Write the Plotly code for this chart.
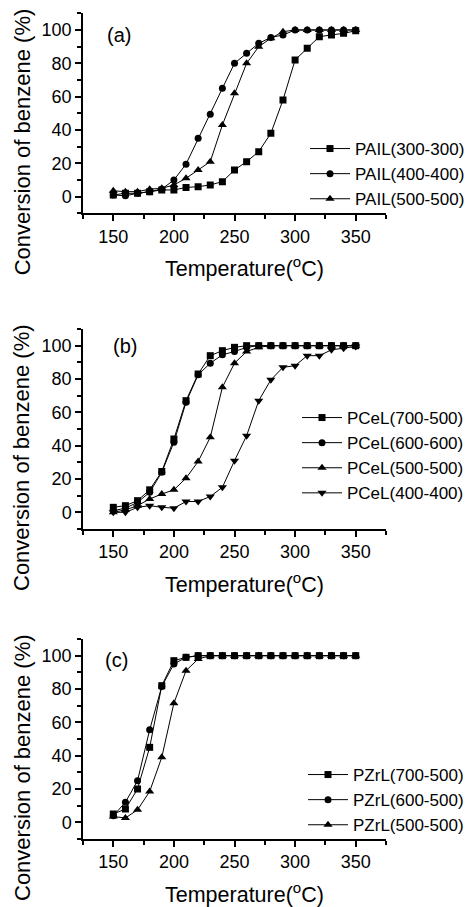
import plotly.graph_objects as go

temps = [150, 160, 170, 180, 190, 200, 210, 220, 230, 240, 250,
         260, 270, 280, 290, 300, 310, 320, 330, 340, 350]

# (a) PAIL series
pail_300 = [1, 2, 2, 3, 4, 4, 5.5, 6, 7, 9, 16, 21, 27, 38, 58, 82, 89, 96, 97, 98, 99.5]
pail_400 = [1, 0.5, 2, 3, 4.5, 10, 19.5, 35, 49.5, 65, 80, 86, 92, 95.5, 97, 100, 100, 100, 100, 100, 100]
pail_500 = [3.5, 3, 3, 4.5, 5, 7, 11, 16, 21, 43, 62, 80, 90, 95, 99, 100, 100, 100, 100, 100, 100]

# (b) PCeL series
pcel_700 = [3, 4, 7, 13.5, 24.5, 44, 67, 83, 94, 97, 99, 100, 100, 100, 100, 100, 100, 100, 100, 100, 100]
pcel_600 = [1, 2.5, 6, 12, 24, 42, 66, 82.5, 89.5, 94.5, 96.5, 99, 100, 100, 100, 100, 100, 100, 100, 100, 100]
pcel_500 = [0, 1.5, 4, 8, 11, 13.5, 20.5, 30.5, 45, 75, 89.5, 96.5, 99, 100, 100, 100, 100, 100, 100, 100, 100]
pcel_400 = [0, 0, 3, 4, 3, 2.5, 6.5, 6.5, 9.5, 15, 31, 46, 67, 79.5, 87, 88, 94, 94, 97.5, 98.5, 99.5]

# (c) PZrL series
pzrl_700 = [5, 8, 20, 45, 82, 97, 99, 100, 100, 100, 100, 100, 100, 100, 100, 100, 100, 100, 100, 100, 100]
pzrl_600 = [4, 12, 25, 55.5, 81.5, 95, 99, 100, 100, 100, 100, 100, 100, 100, 100, 100, 100, 100, 100, 100, 100]
pzrl_500 = [3.5, 2.6, 7.5, 18.5, 39, 71.5, 91, 98, 100, 100, 100, 100, 100, 100, 100, 100, 100, 100, 100, 100, 100]

panels = [
    ("(a)", [("PAIL(300-300)", pail_300, "square"),
             ("PAIL(400-400)", pail_400, "circle"),
             ("PAIL(500-500)", pail_500, "triangle-up")]),
    ("(b)", [("PCeL(700-500)", pcel_700, "square"),
             ("PCeL(600-600)", pcel_600, "circle"),
             ("PCeL(500-500)", pcel_500, "triangle-up"),
             ("PCeL(400-400)", pcel_400, "triangle-down")]),
    ("(c)", [("PZrL(700-500)", pzrl_700, "square"),
             ("PZrL(600-500)", pzrl_600, "circle"),
             ("PZrL(500-500)", pzrl_500, "triangle-up")]),
]

W, H = 476, 907
OFF = 8  # page body margin
FONT = "Liberation Sans, Arial, sans-serif"


def fx(px):
    return (px - OFF) / W


def fy(py):
    return 1 - (py - OFF) / H


# screen pixel positions measured on the reference
x_px = (83, 386)
y_px = [(13.3, 213.3), (329, 529), (639, 839)]
legend_left = [305, 297, 303]
legend_top = [131, 400, 757]
label_pos = [(155, 97), (160, 100), (152.5, 97.5)]

fig = go.Figure()
layout = dict(width=W, height=H, margin=dict(l=0, r=0, t=0, b=0, autoexpand=False),
              paper_bgcolor="white", plot_bgcolor="white",
              font=dict(family=FONT, size=18, color="black"),
              showlegend=True, annotations=[])

for i, (label, series) in enumerate(panels):
    n = "" if i == 0 else str(i + 1)
    leg = "legend" if i == 0 else f"legend{i + 1}"
    for name, vals, sym in series:
        size = 8 if sym.startswith("triangle") else 7
        fig.add_trace(go.Scatter(
            x=temps, y=vals, name=name, mode="lines+markers",
            xaxis=f"x{n}", yaxis=f"y{n}", legend=leg,
            line=dict(color="black", width=1),
            marker=dict(symbol=sym, size=size, color="black")))

    top, bot = y_px[i]
    axis_common = dict(showline=True, linecolor="black", linewidth=1.5,
                       ticks="outside", ticklen=6, tickwidth=1.5, tickcolor="black",
                       showgrid=False, zeroline=False,
                       tickfont=dict(family=FONT, size=18, color="black"))
    layout[f"xaxis{n}"] = dict(domain=[fx(x_px[0]), fx(x_px[1])], range=[125, 375],
                               anchor=f"y{n}", tick0=150, dtick=50,
                               minor=dict(tick0=125, dtick=25, ticks="outside", ticklen=4,
                                          tickwidth=1.5, tickcolor="black"),
                               **axis_common)
    layout[f"yaxis{n}"] = dict(domain=[fy(bot), fy(top)], range=[-10, 110],
                               anchor=f"x{n}", tick0=0, dtick=20,
                               minor=dict(tick0=0, dtick=10, ticks="outside", ticklen=4,
                                          tickwidth=1.5, tickcolor="black"),
                               **axis_common)
    layout[leg] = dict(x=fx(legend_left[i]), xanchor="left", y=fy(legend_top[i]), yanchor="top",
                       bgcolor="rgba(0,0,0,0)", borderwidth=0,
                       font=dict(family=FONT, size=17, color="black"),
                       itemwidth=40, tracegroupgap=0)
    # panel label
    layout["annotations"].append(dict(
        text=label, x=label_pos[i][0], y=label_pos[i][1], xref=f"x{n}", yref=f"y{n}",
        showarrow=False, xanchor="center", yanchor="middle",
        font=dict(family=FONT, size=20, color="black")))
    # axis titles
    layout["annotations"].append(dict(
        text="Temperature(<sup>o</sup>C)", x=fx(244), y=fy(bot + 54),
        xref="paper", yref="paper", showarrow=False, xanchor="center", yanchor="middle",
        font=dict(family=FONT, size=21.5, color="black")))
    layout["annotations"].append(dict(
        text="Conversion of benzene (%)", x=fx(22), y=fy((top + bot) / 2 + 29),
        xref="paper", yref="paper", showarrow=False, textangle=-90,
        xanchor="center", yanchor="middle",
        font=dict(family=FONT, size=22, color="black")))

fig.update_layout(**layout)
fig.write_html("out.html")
